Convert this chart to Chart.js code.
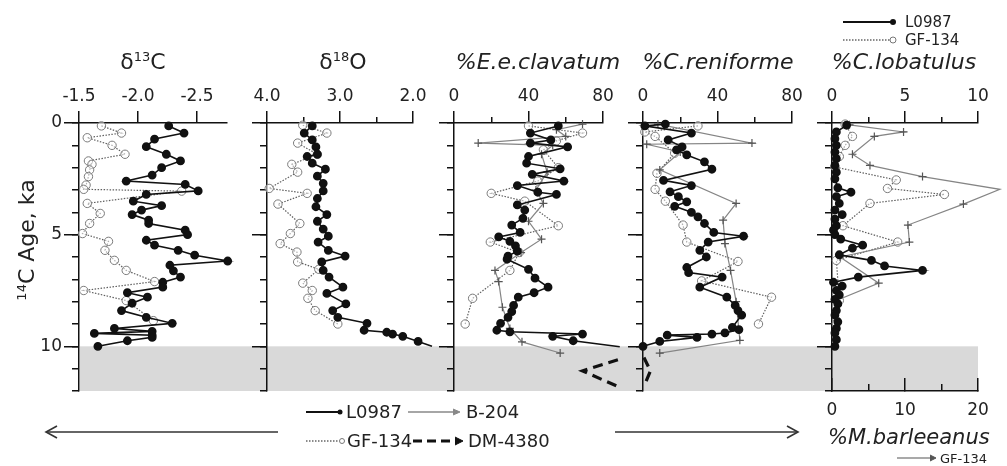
<!DOCTYPE html>
<html>
<head>
<meta charset="utf-8">
<script src="https://cdn.jsdelivr.net/npm/chart.js@4.4.1/dist/chart.umd.min.js"></script>
<style>
  html, body { margin:0; padding:0; background:#fff; }
  #wrap { position:relative; width:1007px; height:466px; overflow:hidden; font-family:'DejaVu Sans', sans-serif; color:#222; }
  #wrap canvas { position:absolute; left:0; top:0; }
  .t { position:absolute; white-space:nowrap; line-height:1; }
  .title { font-size:22px; transform:translateX(-50%); top:51px; }
  .title i, .it { font-style:italic; }
  sup { font-size:13px; vertical-align:8px; line-height:0; }
  .leg { font-size:18px; transform:translateY(-50%); }
  svg { position:absolute; left:0; top:0; }
</style>
</head>
<body>
<div id="wrap">
  <canvas id="p1" width="1007" height="466"></canvas>
  <canvas id="p2" width="1007" height="466"></canvas>
  <canvas id="p3" width="1007" height="466"></canvas>
  <canvas id="p4" width="1007" height="466"></canvas>
  <canvas id="p5" width="1007" height="466"></canvas>

  <svg width="1007" height="466">
    <!-- top right legend -->
    <line x1="843" y1="22" x2="893" y2="22" stroke="#111" stroke-width="1.8"/>
    <circle cx="893" cy="22" r="3" fill="#111"/>
    <line x1="843" y1="40" x2="890" y2="40" stroke="#666" stroke-width="1.3" stroke-dasharray="1.5,1.5"/>
    <circle cx="893" cy="40" r="3" fill="#fff" stroke="#777" stroke-width="1"/>
    <!-- arrows -->
    <line x1="47" y1="432" x2="278" y2="432" stroke="#333" stroke-width="1.6"/>
    <polyline points="57,426 46,432 57,438" fill="none" stroke="#333" stroke-width="1.6"/>
    <line x1="615" y1="432" x2="797" y2="432" stroke="#333" stroke-width="1.6"/>
    <polyline points="787,426 798,432 787,438" fill="none" stroke="#333" stroke-width="1.6"/>
    <!-- bottom legend -->
    <line x1="306" y1="412" x2="340" y2="412" stroke="#111" stroke-width="1.8"/>
    <circle cx="340" cy="412" r="2.5" fill="#111"/>
    <line x1="408" y1="412" x2="458" y2="412" stroke="#888" stroke-width="1.3"/>
    <polyline points="453,409 460,412 453,415" fill="#888" stroke="#888" stroke-width="1"/>
    <line x1="306" y1="441" x2="339" y2="441" stroke="#666" stroke-width="1.3" stroke-dasharray="1.5,1.5"/>
    <circle cx="342" cy="441" r="2.5" fill="#fff" stroke="#777" stroke-width="1"/>
    <line x1="413" y1="441" x2="458" y2="441" stroke="#111" stroke-width="3" stroke-dasharray="9,5"/>
    <polyline points="455,437 463,441 455,445" fill="#111" stroke="#111" stroke-width="1"/>
    <!-- M.barleeanus legend -->
    <line x1="897" y1="458" x2="933" y2="458" stroke="#555" stroke-width="1.2"/>
    <polyline points="930,455 936,458 930,461" fill="#555" stroke="#555" stroke-width="1"/>
  </svg>

  <div class="t title" style="left:143px">&delta;<sup>13</sup>C</div>
  <div class="t title" style="left:343px">&delta;<sup>18</sup>O</div>
  <div class="t title" style="left:538px"><i>%E.e.clavatum</i></div>
  <div class="t title" style="left:718px"><i>%C.reniforme</i></div>
  <div class="t title" style="left:904px"><i>%C.lobatulus</i></div>

  <div class="t" style="left:27px; top:240px; font-size:22px; transform:translate(-50%,-50%) rotate(-90deg);"><sup>14</sup>C Age, ka</div>

  <div class="t" style="left:905px; top:22px; font-size:15px; transform:translateY(-50%);">L0987</div>
  <div class="t" style="left:905px; top:40px; font-size:15px; transform:translateY(-50%);">GF-134</div>

  <div class="t leg" style="left:346px; top:412px;">L0987</div>
  <div class="t leg" style="left:466px; top:412px;">B-204</div>
  <div class="t leg" style="left:347px; top:441px;">GF-134</div>
  <div class="t leg" style="left:468px; top:441px;">DM-4380</div>

  <div class="t it" style="left:828px; top:437px; font-size:21px; transform:translateY(-50%);">%M.barleeanus</div>
  <div class="t" style="left:940px; top:458px; font-size:13px; transform:translateY(-50%);">GF-134</div>
</div>

<script>
/* ===========================
   DATA (age in ka, value)
=========================== */
const ageMajor = [0, 5, 10];
const ageMinor = [0, 1, 2, 3, 4, 5, 6, 7, 8, 9, 10, 11, 12];

// d13C
const d13C_L0987_age = [0.13,0.45,0.72,1.06,1.4,1.7,2.0,2.33,2.6,2.75,3.04,3.2,3.5,3.7,3.9,4.1,4.35,4.5,4.8,5.0,5.25,5.47,5.7,5.92,6.18,6.37,6.62,6.9,7.13,7.35,7.6,7.8,8.07,8.4,8.7,8.97,9.2,9.33,9.42,9.5,9.6,9.75,10.0];
const d13C_L0987     = [-2.26,-2.39,-2.14,-2.07,-2.24,-2.36,-2.2,-2.12,-1.9,-2.4,-2.51,-2.07,-1.96,-2.2,-2.03,-1.95,-2.09,-2.09,-2.4,-2.42,-2.07,-2.14,-2.34,-2.48,-2.76,-2.27,-2.3,-2.36,-2.21,-2.21,-1.91,-2.08,-1.95,-1.86,-2.07,-2.29,-1.8,-2.12,-1.63,-2.12,-2.12,-1.91,-1.66];
const d13C_GF134_age = [0.13,0.45,0.66,1.0,1.4,1.7,1.85,2.1,2.4,2.78,2.97,3.05,3.6,4.05,4.5,4.95,5.3,5.7,6.15,6.6,7.1,7.5,7.95,8.85];
const d13C_GF134     = [-1.69,-1.86,-1.57,-1.78,-1.89,-1.58,-1.61,-1.59,-1.58,-1.56,-1.54,-2.37,-1.57,-1.68,-1.59,-1.53,-1.75,-1.72,-1.8,-1.9,-2.14,-1.54,-1.9,-2.13];

// d18O
const d18O_L0987_age = [0.13,0.45,0.76,1.07,1.4,1.5,1.8,2.07,2.38,2.7,3.04,3.38,3.75,4.1,4.4,4.75,5.07,5.33,5.7,5.96,6.22,6.6,6.9,7.35,7.63,8.1,8.4,8.7,8.97,9.28,9.37,9.45,9.55,9.78,10.0];
const d18O_L0987     = [3.38,3.49,3.38,3.33,3.31,3.45,3.38,3.2,3.31,3.23,3.23,3.31,3.33,3.18,3.31,3.23,3.16,3.3,3.16,2.93,3.25,3.23,3.15,2.96,3.18,2.92,3.1,3.03,2.63,2.67,2.36,2.28,2.14,1.93,1.74];
const d18O_GF134_age = [0.1,0.45,0.9,1.4,1.85,2.2,2.93,3.15,3.63,4.5,4.95,5.4,5.78,6.22,6.55,7.17,7.5,7.85,8.4,9.0];
const d18O_GF134     = [3.51,3.18,3.58,3.31,3.66,3.58,3.97,3.45,3.85,3.55,3.68,3.82,3.59,3.58,3.29,3.51,3.38,3.44,3.34,3.03];

// %E.e.clavatum
const clav_L0987_age = [0.13,0.45,0.76,0.9,1.07,1.5,1.8,2.05,2.3,2.6,2.8,3.1,3.2,3.67,3.9,4.27,4.57,4.9,5.1,5.3,5.5,5.74,5.96,6.1,6.55,6.95,7.35,7.6,7.8,8.17,8.45,8.7,8.97,9.28,9.35,9.45,9.55,9.75,10.02];
const clav_L0987     = [56,41,52,41,61,40,39,57,42,59,34,45,55,34,38,37,31,35.5,24,30,33,34,29,28.5,40,43.5,50.5,43,34.5,32,31,29,25,23,30,69,53,64,89];
const clav_GF134_age = [0.13,0.45,0.8,1.2,2.0,2.6,3.15,3.5,4.6,5.33,5.8,6.6,7.85,9.0];
const clav_GF134     = [40,69,55,48,56,45,20,38,56,19.5,35,30,10,6];
const clav_B204_age  = [0.05,0.3,0.6,0.9,1.0,1.4,2.2,3.0,3.6,4.4,5.2,5.8,6.6,7.1,8.25,9.2,9.8,10.3];
const clav_B204      = [69,55,60,13,53,47,50,44,48,40,47,36,22,24,26,30,36.5,57];
const clav_DM4380_age = [10.6,11.1,11.8];
const clav_DM4380     = [88,69,88];

// %C.reniforme
const reni_L0987_age = [0.05,0.13,0.45,0.76,1.07,1.2,1.43,1.74,2.07,2.57,2.8,3.08,3.3,3.53,3.73,4.0,4.2,4.5,4.9,5.07,5.33,5.7,6.0,6.47,6.7,6.9,7.35,7.8,8.17,8.4,8.6,9.15,9.25,9.4,9.45,9.5,9.6,9.78,10.0];
const reni_L0987     = [12,1,26,13.5,21,18,23.5,33,37,11,26,14.5,19,23.5,17,26,29.5,33,38,54,35,30.5,34,23.5,24.5,42.5,30.5,45,49.5,51,53,48,51.5,44,37,13,29,9,0];
const reni_GF134_age = [0.13,0.4,0.6,1.35,2.25,2.97,3.5,4.57,5.33,6.2,7.07,7.8,9.0];
const reni_GF134     = [29.5,1,6.5,17,7.5,6.5,12,21.5,23.5,51,31.5,69,62];
const reni_B204_age  = [0.05,0.9,0.95,1.3,2.1,3.6,4.35,5.4,6.6,8.0,9.73,10.3];
const reni_B204      = [8,58.5,2,20,9,50,43,44,47,50,52,9];
const reni_DM4380_age = [10.5,11.1,11.8];
const reni_DM4380     = [0.5,4,0.5];

// %C.lobatulus
const lob_L0987_age = [0.1,0.4,0.7,1.0,1.3,1.6,1.9,2.2,2.5,2.9,3.1,3.3,3.6,3.9,4.1,4.3,4.6,4.8,5.0,5.2,5.47,5.6,5.9,6.15,6.4,6.6,6.9,7.13,7.3,7.5,7.7,7.9,8.1,8.4,8.6,8.9,9.2,9.4,9.7,10.0];
const lob_L0987     = [1.0,0.3,0.2,0.3,0.2,0.3,0.2,0.3,0.2,0.4,1.3,0.3,0.5,0.2,0.7,0.2,0.3,0.1,0.2,0.6,2.1,1.4,0.5,2.7,3.6,6.2,1.8,0.1,0.7,0.3,0.5,0.2,0.4,0.3,0.2,0.4,0.3,0.2,0.3,0.2];
const lob_GF134_age = [0.05,0.6,1.0,1.5,1.97,2.55,2.93,3.2,3.6,4.6,5.33,6.15,7.95,8.97];
const lob_GF134     = [0.9,1.4,0.9,0.5,0.2,4.4,3.8,7.7,2.6,0.75,4.5,0.3,0.5,0.3];
const lob_B204_age  = [0.08,0.4,0.6,1.4,1.9,2.4,2.97,3.63,4.57,5.33,6.0,7.17,7.95];
const lob_B204      = [1.2,4.9,2.9,1.4,2.6,6.2,11.5,9.0,5.2,5.3,0.55,3.2,0.3];

/* ===========================
   LAYOUT / STYLE
=========================== */
Chart.defaults.font.family = "'DejaVu Sans', sans-serif";
Chart.defaults.color = "#222";
Chart.defaults.animation = false;

const INK = "#111";
const AREA_TOP = 123;
const AREA_BOTTOM = 391;
const PAGE_W = 1007;
const PAGE_H = 466;
const TOP_AXIS_H = 40;
const LEFT_AXIS_W = 50;
const BOTTOM_AXIS_H = 35;
const BAND_FROM = 10;
const BAND_TO = 12;

const STYLE = {
    "L0987":   { borderColor:INK, borderWidth:1.6, pointRadius:3.6, pointBackgroundColor:INK, pointBorderColor:INK, order:0 },
    "GF-134":  { borderColor:"#5f5f5f", borderWidth:1.2, borderDash:[1.5,1.5], pointRadius:4.2, pointBackgroundColor:"rgba(255,255,255,0.5)", pointBorderColor:"#7a7a7a", pointBorderWidth:1, order:2 },
    "B-204":   { borderColor:"#858585", borderWidth:1.2, pointStyle:"cross", pointRadius:4, pointBorderColor:"#555", pointBorderWidth:1.2, order:1 },
    "DM-4380": { borderColor:INK, borderWidth:3.2, borderDash:[10,6], pointRadius:0, order:0 }
};

const panels = [
    { id:"p1", left:79,  right:227, min:-2.754, max:-1.5, reverse:true,  major:[-1.5,-2,-2.5], minor:[], digits:1, yLabels:true,
      series:[["GF-134", d13C_GF134_age, d13C_GF134], ["L0987", d13C_L0987_age, d13C_L0987]] },
    { id:"p2", left:267, right:413, min:2, max:4, reverse:true, major:[4,3,2], minor:[3.5,2.5], digits:1,
      series:[["GF-134", d18O_GF134_age, d18O_GF134], ["L0987", d18O_L0987_age, d18O_L0987]] },
    { id:"p3", left:454, right:603, min:0, max:80, major:[0,40,80], minor:[20,60], digits:0,
      series:[["B-204", clav_B204_age, clav_B204], ["GF-134", clav_GF134_age, clav_GF134], ["L0987", clav_L0987_age, clav_L0987], ["DM-4380", clav_DM4380_age, clav_DM4380]] },
    { id:"p4", left:643, right:792, min:0, max:80, major:[0,40,80], minor:[20,60], digits:0,
      series:[["B-204", reni_B204_age, reni_B204], ["GF-134", reni_GF134_age, reni_GF134], ["L0987", reni_L0987_age, reni_L0987], ["DM-4380", reni_DM4380_age, reni_DM4380]] },
    { id:"p5", left:832, right:978, min:0, max:10, major:[0,5,10], minor:[2.5,7.5], digits:0, bottom:{ min:0, max:20, major:[0,10,20], minor:[5,15] },
      series:[["B-204", lob_B204_age, lob_B204], ["GF-134", lob_GF134_age, lob_GF134], ["L0987", lob_L0987_age, lob_L0987]] }
];

const BAND_LEFT = panels[0].left + 1;
const BAND_RIGHT = panels[4].right;

/* ===========================
   HELPERS
=========================== */
// fixed axis box size, so the chart areas of all panels line up
function fitTo(size){
    return s => {
        if(s.isHorizontal()) s.height = size; else s.width = size;
        s.paddingTop = s.paddingBottom = s.paddingLeft = s.paddingRight = 0;
    };
}

function fixTicks(list){
    return s => { s.ticks = list.map(v => ({ value:v })); };
}

// minor axes: zero size, sit next to the chart area (weight 0)
function axis(pos, min, max, reverse, ticks, len, opts){
    return Object.assign({
        type:"linear", position:pos, min:min, max:max, reverse:!!reverse, weight:0,
        afterBuildTicks:fixTicks(ticks), afterFit:fitTo(0),
        grid:{ drawOnChartArea:false, color:INK, lineWidth:1.5, tickLength:len },
        border:{ display:false },
        ticks:{ display:false, autoSkip:false, maxRotation:0 }
    }, opts || {});
}

const bandPlugin = {
    id:"band",
    beforeDraw(chart){
        const y = chart.scales.y;
        const top = y.getPixelForValue(BAND_FROM);
        const bot = y.getPixelForValue(BAND_TO);
        const ctx = chart.ctx;
        ctx.save();
        ctx.fillStyle = "#d9d9d9";
        ctx.fillRect(BAND_LEFT, top, BAND_RIGHT - BAND_LEFT, bot - top);
        ctx.restore();
    }
};

/* ===========================
   PANELS
=========================== */
function buildPanel(p, idx){

    const scales = {
        x: axis("top", p.min, p.max, p.reverse, p.major, 12, {
            weight:1, afterFit:fitTo(TOP_AXIS_H),
            border:{ display:true, color:INK, width:1.5 },
            ticks:{ display:true, autoSkip:false, maxRotation:0, padding:4, font:{ size:17 }, color:"#222",
                    callback:v => Number(v).toFixed(p.digits) }
        }),
        xMinor: axis("top", p.min, p.max, p.reverse, p.minor, 6),
        y: axis("left", 0, 12, true, ageMajor, 15, {
            weight:1, afterFit:fitTo(LEFT_AXIS_W),
            border:{ display:true, color:INK, width:1.5 },
            ticks:{ display:!!p.yLabels, autoSkip:false, padding:2, font:{ size:17 }, color:"#222" }
        }),
        yMinor: axis("left", 0, 12, true, ageMinor, 7)
    };

    let padBottom = PAGE_H - AREA_BOTTOM;

    if(p.bottom){
        scales.xb = axis("bottom", p.bottom.min, p.bottom.max, false, p.bottom.major, -13, {
            weight:1, afterFit:fitTo(BOTTOM_AXIS_H),
            border:{ display:true, color:INK, width:1.5 },
            ticks:{ display:true, autoSkip:false, maxRotation:0, padding:22, font:{ size:17 }, color:"#222" }
        });
        scales.xbMinor = axis("bottom", p.bottom.min, p.bottom.max, false, p.bottom.minor, -7);
        padBottom -= BOTTOM_AXIS_H;
    }

    const datasets = p.series.map(([name, ages, vals]) => Object.assign({
        label:name,
        data:ages.map((a, i) => ({ x:vals[i], y:a })),
        showLine:true,
        clip:false,
        xAxisID:"x",
        yAxisID:"y"
    }, STYLE[name]));

    return new Chart(document.getElementById(p.id), {
        type:"scatter",
        data:{ datasets:datasets },
        options:{
            responsive:false,
            maintainAspectRatio:false,
            animation:false,
            layout:{ padding:{
                left:p.left - LEFT_AXIS_W,
                right:PAGE_W - p.right,
                top:AREA_TOP - TOP_AXIS_H,
                bottom:padBottom
            } },
            plugins:{ legend:{ display:false }, tooltip:{ enabled:false } },
            scales:scales
        },
        plugins: idx === 0 ? [bandPlugin] : []
    });
}

panels.forEach(buildPanel);
</script>
</body>
</html>
